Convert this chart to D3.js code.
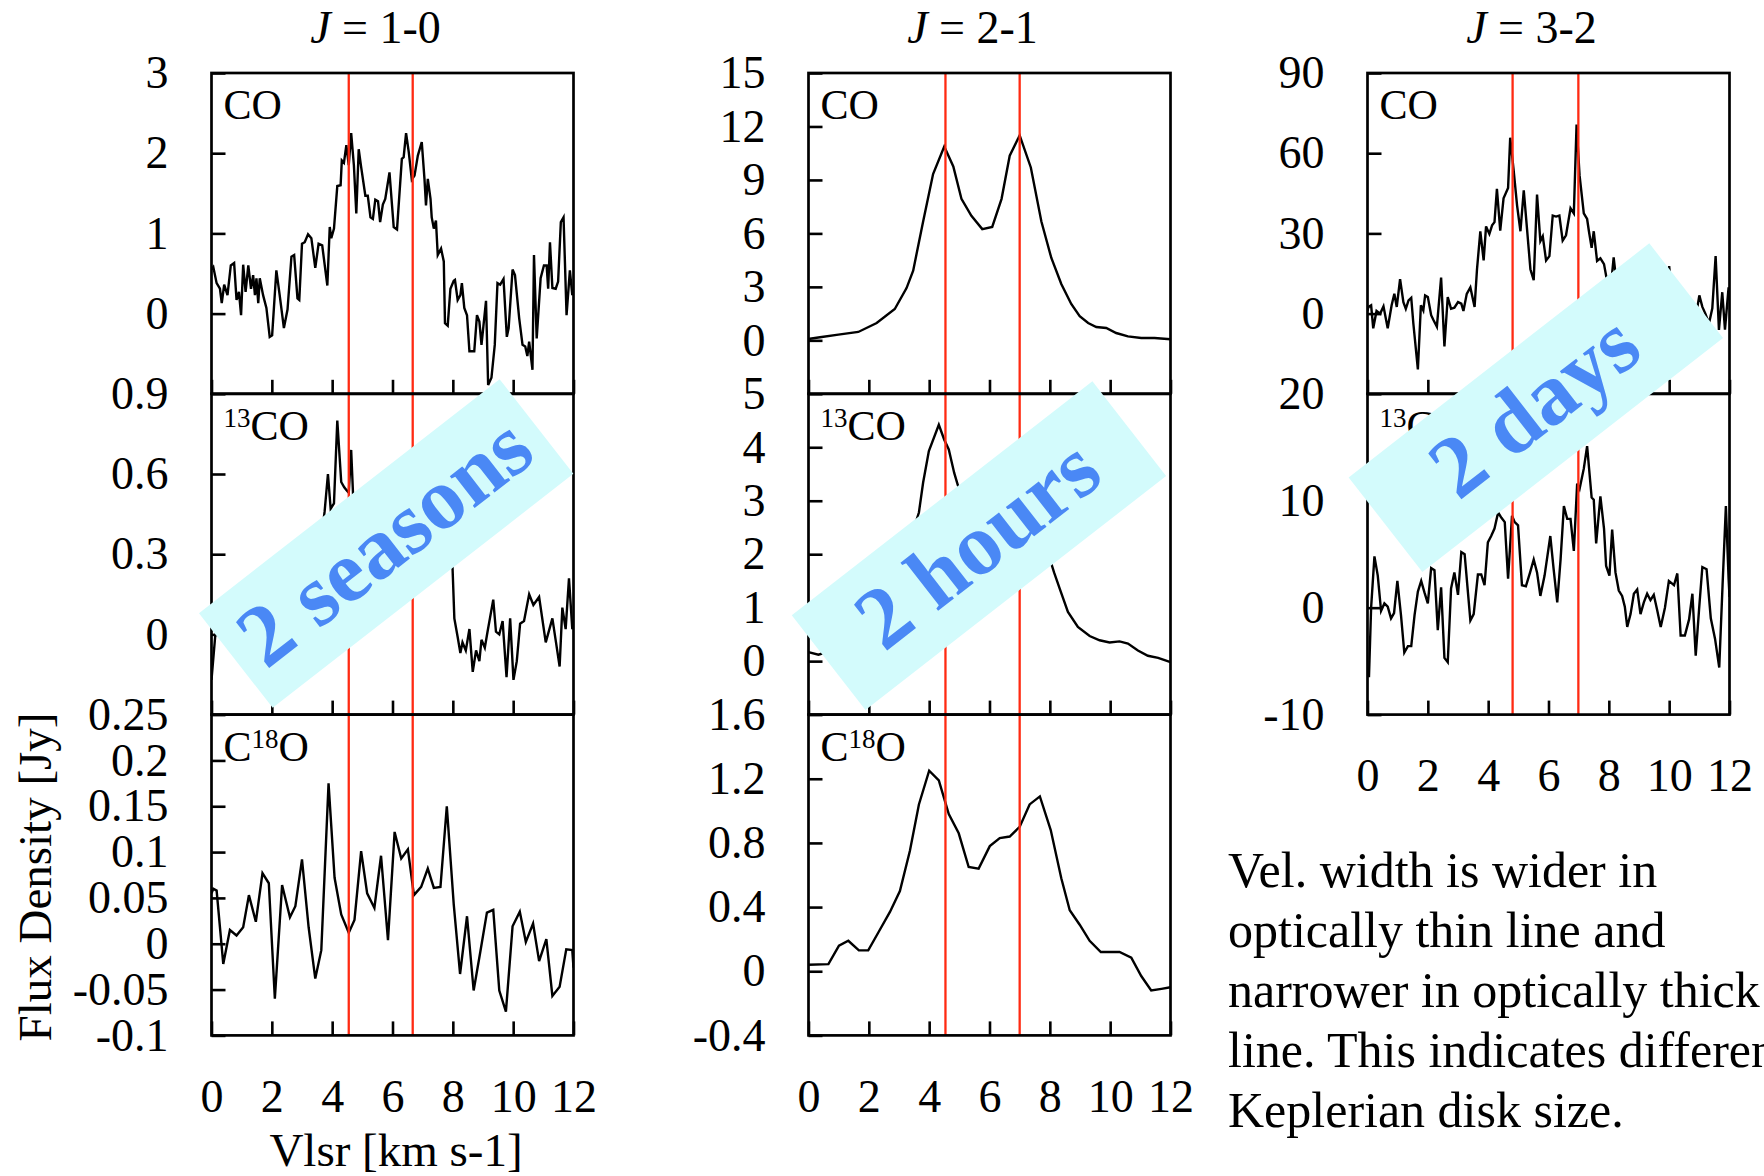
<!DOCTYPE html>
<html>
<head>
<meta charset="utf-8">
<script src="https://cdn.jsdelivr.net/npm/d3@7"></script>
<style>
  html, body { margin: 0; padding: 0; background: #fff; overflow: hidden; }
  svg { display: block; }
  text { font-family: "Liberation Serif", "Times New Roman", serif; fill: #000; }
</style>
</head>
<body>
<svg id="chart" width="1764" height="1176"></svg>
<script>
// ---------- data: spectra as [Vlsr (km/s), flux density (Jy)] ----------
const co10 = [[0.0,0.55],[0.06,0.58],[0.17,0.38],[0.28,0.31],[0.34,0.13],[0.42,0.36],[0.53,0.23],[0.64,0.60],[0.75,0.63],[0.83,0.17],[0.91,0.27],[0.98,-0.02],[1.05,0.61],[1.13,0.27],[1.22,0.60],[1.31,0.31],[1.38,0.48],[1.44,0.23],[1.49,0.44],[1.55,0.13],[1.60,0.44],[1.71,0.23],[1.82,0.07],[1.93,-0.29],[2.01,-0.27],[2.15,0.54],[2.26,0.23],[2.40,-0.18],[2.52,0.05],[2.65,0.71],[2.74,0.73],[2.85,0.19],[2.91,0.17],[3.00,0.87],[3.09,0.89],[3.20,0.99],[3.31,0.94],[3.44,0.57],[3.55,0.87],[3.67,0.85],[3.84,0.35],[3.92,1.08],[3.97,0.94],[4.06,1.06],[4.17,1.59],[4.28,1.60],[4.32,1.91],[4.39,1.88],[4.47,2.10],[4.55,1.85],[4.63,2.25],[4.72,1.85],[4.80,1.25],[4.88,2.05],[4.96,1.83],[5.10,1.47],[5.18,1.47],[5.27,1.20],[5.35,1.18],[5.43,1.42],[5.52,1.40],[5.59,1.14],[5.68,1.36],[5.76,1.43],[5.90,1.76],[6.04,1.08],[6.15,1.05],[6.31,1.93],[6.37,1.95],[6.45,2.25],[6.54,2.01],[6.64,1.67],[6.73,1.72],[6.84,1.97],[6.97,2.14],[7.06,1.68],[7.11,1.35],[7.17,1.68],[7.26,1.43],[7.30,1.20],[7.37,1.06],[7.44,1.16],[7.50,0.73],[7.61,0.81],[7.70,0.65],[7.74,-0.12],[7.83,-0.15],[7.92,0.31],[8.03,0.41],[8.07,0.42],[8.16,0.17],[8.25,0.23],[8.30,0.38],[8.38,0.07],[8.47,-0.02],[8.55,-0.47],[8.71,-0.47],[8.80,-0.02],[8.88,-0.10],[8.95,-0.39],[9.10,0.16],[9.17,-0.89],[9.28,-0.80],[9.39,-0.39],[9.48,0.38],[9.57,0.36],[9.68,0.43],[9.79,-0.29],[9.85,-0.18],[9.98,0.55],[10.06,0.48],[10.20,-0.06],[10.31,-0.39],[10.40,-0.41],[10.47,-0.53],[10.53,-0.35],[10.64,-0.70],[10.69,0.73],[10.78,-0.31],[10.91,0.44],[11.02,0.60],[11.11,0.60],[11.16,0.31],[11.22,0.89],[11.30,0.32],[11.41,0.31],[11.49,0.40],[11.58,1.14],[11.67,1.20],[11.77,-0.02],[11.88,0.54],[11.96,0.23],[12.0,0.30]];

const co13_10 = [[0.0,-0.17],[0.12,-0.01],[0.22,0.05],[0.33,0.08],[0.44,0.02],[0.55,0.10],[0.66,0.04],[0.77,0.12],[0.88,-0.02],[0.99,0.09],[1.10,0.03],[1.21,0.14],[1.32,-0.04],[1.43,0.08],[1.54,0.12],[1.65,0.0],[1.76,0.10],[1.87,-0.06],[1.98,0.07],[2.09,0.15],[2.20,0.02],[2.31,0.11],[2.42,-0.05],[2.53,0.09],[2.64,0.16],[2.75,0.04],[2.86,0.12],[2.97,0.0],[3.08,0.18],[3.19,0.08],[3.30,0.22],[3.41,0.12],[3.52,0.26],[3.63,0.35],[3.75,0.46],[3.86,0.60],[3.95,0.47],[4.06,0.49],[4.17,0.80],[4.30,0.57],[4.40,0.55],[4.47,0.54],[4.55,0.53],[4.63,0.69],[4.72,0.45],[4.83,0.30],[4.94,0.42],[5.05,0.36],[5.16,0.48],[5.27,0.33],[5.38,0.40],[5.49,0.29],[5.60,0.44],[5.71,0.36],[5.82,0.50],[5.93,0.38],[6.04,0.45],[6.15,0.55],[6.26,0.42],[6.37,0.58],[6.48,0.50],[6.59,0.62],[6.70,0.48],[6.81,0.60],[6.92,0.66],[7.03,0.52],[7.14,0.56],[7.25,0.44],[7.36,0.50],[7.47,0.38],[7.58,0.42],[7.69,0.33],[7.80,0.37],[7.91,0.30],[7.99,0.25],[8.05,0.06],[8.16,-0.01],[8.25,-0.07],[8.32,-0.03],[8.43,-0.06],[8.55,0.02],[8.66,-0.14],[8.77,-0.06],[8.88,-0.10],[8.95,-0.02],[9.06,-0.05],[9.15,0.01],[9.34,0.13],[9.43,0.01],[9.54,0.00],[9.65,0.05],[9.78,-0.16],[9.90,0.06],[10.01,-0.17],[10.12,-0.10],[10.23,0.04],[10.36,0.05],[10.53,0.15],[10.67,0.11],[10.86,0.14],[11.08,-0.03],[11.30,0.06],[11.42,-0.03],[11.54,-0.12],[11.63,0.10],[11.74,0.02],[11.85,0.21],[11.96,0.02],[12.0,0.03]];

const c18o10 = [[0.0,0.055],[0.06,0.060],[0.17,0.058],[0.39,-0.022],[0.61,0.015],[0.83,0.009],[1.05,0.018],[1.24,0.053],[1.47,0.024],[1.69,0.077],[1.90,0.066],[2.10,-0.060],[2.34,0.064],[2.60,0.029],[2.78,0.041],[3.00,0.092],[3.22,0.018],[3.44,-0.038],[3.64,-0.007],[3.88,0.175],[4.08,0.072],[4.30,0.032],[4.55,0.012],[4.74,0.026],[4.96,0.101],[5.16,0.055],[5.40,0.039],[5.62,0.096],[5.85,0.004],[6.07,0.122],[6.29,0.093],[6.51,0.103],[6.71,0.053],[6.95,0.062],[7.17,0.082],[7.37,0.061],[7.59,0.062],[7.80,0.150],[8.03,0.043],[8.24,-0.033],[8.47,0.030],[8.69,-0.051],[8.91,-0.009],[9.13,0.034],[9.34,0.037],[9.54,-0.051],[9.76,-0.074],[9.98,0.019],[10.22,0.035],[10.42,0.002],[10.66,0.022],[10.86,-0.019],[11.10,0.005],[11.30,-0.057],[11.54,-0.047],[11.76,-0.006],[11.96,-0.007],[12.0,-0.026]];

const co21 = [[0.0,0.05],[0.05,0.09],[0.38,0.17],[0.99,0.32],[1.65,0.47],[2.26,0.97],[2.86,1.76],[3.25,2.93],[3.47,3.91],[3.80,6.67],[4.13,9.33],[4.50,10.88],[4.80,9.76],[5.07,7.94],[5.40,6.99],[5.76,6.24],[6.09,6.36],[6.40,7.94],[6.67,10.36],[7.00,11.50],[7.37,9.70],[7.72,6.67],[8.05,4.62],[8.38,3.16],[8.71,2.04],[8.99,1.35],[9.27,0.97],[9.54,0.75],[9.87,0.69],[10.20,0.41],[10.59,0.22],[11.03,0.13],[11.47,0.13],[12.0,0.06]];

const co13_21 = [[0.0,0.17],[0.33,0.12],[0.66,0.18],[1.0,0.22],[1.33,0.26],[1.66,0.35],[2.0,0.48],[2.33,0.70],[2.66,1.05],[3.0,1.55],[3.33,2.20],[3.66,2.78],[3.80,3.34],[3.99,3.93],[4.32,4.42],[4.50,4.14],[4.65,3.96],[4.83,3.52],[4.94,3.31],[5.2,2.85],[5.5,2.50],[5.8,2.40],[6.1,2.50],[6.4,2.75],[6.7,2.95],[7.0,3.00],[7.3,2.80],[7.6,2.45],[7.8,2.20],[8.0,1.91],[8.14,1.66],[8.33,1.35],[8.60,0.92],[8.93,0.64],[9.32,0.47],[9.65,0.39],[9.98,0.35],[10.31,0.37],[10.59,0.33],[10.92,0.20],[11.25,0.10],[11.59,0.06],[12.0,-0.02]];

const c18o21 = [[0.0,0.04],[0.66,0.044],[1.01,0.16],[1.32,0.19],[1.67,0.13],[1.98,0.13],[2.31,0.24],[2.70,0.37],[3.03,0.50],[3.36,0.75],[3.66,1.04],[4.00,1.25],[4.32,1.19],[4.65,0.98],[4.98,0.86],[5.31,0.65],[5.64,0.64],[6.01,0.78],[6.34,0.83],[6.67,0.84],[7.00,0.90],[7.33,1.04],[7.67,1.09],[8.03,0.88],[8.38,0.58],[8.66,0.38],[8.99,0.29],[9.32,0.19],[9.69,0.12],[9.98,0.12],[10.31,0.12],[10.70,0.085],[11.03,-0.03],[11.36,-0.12],[11.70,-0.11],[12.0,-0.10]];

const co32 = [[0.0,1.0],[0.03,2.5],[0.12,3.1],[0.19,-5.5],[0.30,1.0],[0.42,0.0],[0.53,2.7],[0.67,-5.5],[0.80,3.1],[0.89,7.4],[0.97,2.5],[1.08,12.9],[1.19,4.3],[1.27,1.8],[1.36,4.9],[1.45,5.9],[1.52,-3.7],[1.67,-20.9],[1.77,3.1],[1.85,1.2],[1.91,6.8],[2.00,6.2],[2.11,-0.6],[2.19,-2.5],[2.30,-4.9],[2.44,13.5],[2.55,-12.3],[2.66,6.2],[2.77,1.8],[2.88,2.2],[3.00,4.3],[3.11,3.7],[3.18,1.0],[3.29,7.4],[3.41,9.8],[3.55,2.5],[3.63,16.6],[3.74,30.8],[3.85,19.9],[3.93,32.6],[4.04,29.8],[4.13,33.0],[4.21,34.2],[4.29,46.7],[4.40,31.0],[4.51,43.1],[4.66,47.0],[4.73,65.8],[4.84,54.1],[4.96,40.3],[5.07,30.8],[5.18,46.1],[5.29,31.4],[5.40,16.6],[5.51,12.5],[5.62,44.5],[5.73,27.1],[5.81,28.9],[5.92,19.9],[6.03,21.5],[6.14,36.7],[6.25,36.3],[6.36,36.7],[6.47,27.3],[6.58,29.3],[6.73,39.4],[6.84,37.5],[6.93,70.7],[7.03,51.7],[7.17,37.5],[7.28,35.4],[7.34,30.8],[7.43,24.6],[7.50,30.8],[7.61,19.7],[7.72,20.7],[7.84,18.5],[7.94,12.3],[8.05,8.0],[8.16,21.0],[8.27,10.0],[8.38,6.0],[8.49,12.0],[8.60,4.0],[8.72,9.0],[8.83,2.0],[8.94,7.0],[9.05,0.0],[9.16,5.0],[9.27,-3.0],[9.38,4.0],[9.49,1.0],[9.60,8.0],[9.72,-2.0],[9.83,6.0],[9.94,3.0],[10.0,17.8],[10.1,5.0],[10.2,-1.0],[10.3,4.0],[10.4,-6.0],[10.5,2.0],[10.6,-3.0],[10.7,3.0],[10.8,-5.0],[10.9,0.0],[11.0,6.8],[11.1,2.5],[11.2,0.0],[11.32,-3.7],[11.43,2.0],[11.54,21.5],[11.65,-6.1],[11.76,8.0],[11.85,-6.0],[11.97,9.8],[12.0,5.0]];

const co13_32 = [[0.0,-6.4],[0.05,-6.4],[0.12,0.0],[0.23,4.8],[0.34,3.0],[0.45,-0.3],[0.56,0.4],[0.67,0.1],[0.78,-1.0],[0.88,-0.5],[0.99,2.5],[1.11,-0.7],[1.22,-4.2],[1.34,-3.6],[1.45,-3.6],[1.56,-0.7],[1.67,1.5],[1.78,2.5],[1.89,1.4],[2.00,0.4],[2.11,3.7],[2.22,3.5],[2.33,-2.1],[2.44,1.9],[2.55,-4.7],[2.66,-5.1],[2.77,1.8],[2.88,3.3],[3.00,1.2],[3.11,5.2],[3.22,5.0],[3.41,-1.2],[3.52,-0.6],[3.66,3.1],[3.77,3.1],[3.88,2.1],[3.99,6.1],[4.10,6.7],[4.21,7.4],[4.33,8.9],[4.44,8.4],[4.55,8.0],[4.66,2.7],[4.79,8.6],[4.88,8.0],[4.99,7.7],[5.12,2.1],[5.25,2.0],[5.39,3.3],[5.51,4.5],[5.62,3.3],[5.73,1.1],[5.87,3.0],[6.06,6.7],[6.17,3.6],[6.29,0.5],[6.40,4.5],[6.51,9.5],[6.62,8.3],[6.73,8.3],[6.84,5.3],[6.95,11.6],[7.03,11.1],[7.17,13.0],[7.28,15.1],[7.43,10.3],[7.50,10.1],[7.58,6.0],[7.72,10.4],[7.84,7.4],[7.91,3.9],[8.02,3.0],[8.11,7.3],[8.22,3.3],[8.33,1.6],[8.44,1.1],[8.53,0.1],[8.61,-1.8],[8.72,-0.6],[8.83,1.3],[8.94,1.7],[9.05,-0.6],[9.16,0.5],[9.27,1.3],[9.38,0.7],[9.49,1.2],[9.60,-0.2],[9.72,-1.8],[9.86,0.0],[9.99,2.5],[10.16,2.1],[10.27,3.2],[10.38,-2.6],[10.52,-2.6],[10.66,-1.1],[10.77,1.3],[10.88,-4.5],[10.99,-0.2],[11.10,3.8],[11.24,3.6],[11.38,-1.0],[11.52,-2.9],[11.66,-5.6],[11.77,2.1],[11.88,9.5],[11.97,2.7],[12.0,1.0]];

// ---------- axes, reference velocities and labels ----------
const velTicks = [0, 2, 4, 6, 8, 10, 12];
const transitions = ["1-0", "2-1", "3-2"];
const yDomain10 = [[-1, 3], [-0.3, 0.9], [-0.1, 0.25]];
const yDomain21 = [[-3, 15], [-1, 5], [-0.4, 1.6]];
const yDomain32 = [[-30, 90], [-10, 20]];
const yTicks10 = [[0, 1, 2, 3], [0, 0.3, 0.6, 0.9], [-0.1, -0.05, 0, 0.05, 0.1, 0.15, 0.2, 0.25]];
const yTicks21 = [[0, 3, 6, 9, 12, 15], [0, 1, 2, 3, 4, 5], [-0.4, 0, 0.4, 0.8, 1.2, 1.6]];
const yTicks32 = [[0, 30, 60, 90], [-10, 0, 10, 20]];
const peakVel10 = [4.55, 6.67];
const peakVel21 = [4.54, 7.0];
const peakVel32 = [4.81, 6.99];
const notes = ["2 seasons", "2 hours", "2 days"];
const noteAt = [[5.79, 0.34], [5.65, 2.16], [5.58, 18.7]]; // [Vlsr, flux] in each column's 13CO panel
const summary = [
  "Vel. width is wider in",
  "optically thin line and",
  "narrower in optically thick",
  "line. This indicates different",
  "Keplerian disk size."
];

// molecule labels, split into normal and superscript runs
const molLabels = [
  [{ t: "CO" }],
  [{ t: "13", sup: true }, { t: "CO" }],
  [{ t: "C" }, { t: "18", sup: true }, { t: "O" }]
];

const columns = [
  { trans: transitions[0], spectra: [co10, co13_10, c18o10], domains: yDomain10, ticks: yTicks10, peaks: peakVel10 },
  { trans: transitions[1], spectra: [co21, co13_21, c18o21], domains: yDomain21, ticks: yTicks21, peaks: peakVel21 },
  { trans: transitions[2], spectra: [co32, co13_32], domains: yDomain32, ticks: yTicks32, peaks: peakVel32 }
];

// ---------- layout ----------
const colLeft = [211.5, 808.5, 1367.5];
const colWidth = 362;
const rowTop = 73;
const rowH = 320.8;
const tickLen = 14;
const tickFont = 46;

const svg = d3.select("#chart");
const defs = svg.append("defs");
const gData = svg.append("g");
const gRef = svg.append("g");
const gAxes = svg.append("g");
const gNotes = svg.append("g");

columns.forEach((col, ci) => {
  const x0 = colLeft[ci];
  const x = d3.scaleLinear().domain([0, 12]).range([x0, x0 + colWidth]);
  const nRows = col.spectra.length;
  const yScales = [];

  col.spectra.forEach((spec, ri) => {
    const top = rowTop + ri * rowH;
    const y = d3.scaleLinear().domain(col.domains[ri]).range([top + rowH, top]);
    yScales.push(y);

    const clipId = `clip-${ci}-${ri}`;
    defs.append("clipPath").attr("id", clipId)
      .append("rect").attr("x", x0).attr("y", top).attr("width", colWidth).attr("height", rowH);

    const line = d3.line().x(d => x(d[0])).y(d => y(d[1]));
    gData.append("path")
      .datum(spec)
      .attr("clip-path", `url(#${clipId})`)
      .attr("d", line)
      .attr("fill", "none")
      .attr("stroke", "#000")
      .attr("stroke-width", 2.4)
      .attr("stroke-linejoin", "miter");

    // y axis: inward ticks, labels on the left
    const yAxis = d3.axisLeft(y).tickValues(col.ticks[ri])
      .tickSizeInner(-tickLen).tickSizeOuter(0).tickPadding(43)
      .tickFormat(d => String(d));
    const ga = gAxes.append("g").attr("transform", `translate(${x0},0)`).call(yAxis);
    ga.select(".domain").remove();
    ga.selectAll("line").attr("stroke", "#000").attr("stroke-width", 2.6);
    ga.selectAll("text").attr("font-family", "Liberation Serif, serif").attr("font-size", tickFont).attr("fill", "#000");

    // x axis: inward ticks on each panel bottom, labels only under the last row
    const last = ri === nRows - 1;
    const xAxis = d3.axisBottom(x).tickValues(velTicks)
      .tickSizeInner(-tickLen).tickSizeOuter(0).tickPadding(44)
      .tickFormat(d => last ? String(d) : "");
    const gx = gAxes.append("g").attr("transform", `translate(0,${top + rowH})`).call(xAxis);
    gx.select(".domain").remove();
    gx.selectAll("line").attr("stroke", "#000").attr("stroke-width", 2.6);
    gx.selectAll("text").attr("font-family", "Liberation Serif, serif").attr("font-size", tickFont).attr("fill", "#000");

    // frame
    gAxes.append("rect")
      .attr("x", x0).attr("y", top).attr("width", colWidth).attr("height", rowH)
      .attr("fill", "none").attr("stroke", "#000").attr("stroke-width", 2.7);

    // molecule label
    const lab = gAxes.append("text")
      .attr("x", x0 + 12).attr("y", top + 46)
      .attr("font-size", 42);
    let raised = false;
    molLabels[ri].forEach(part => {
      const ts = lab.append("tspan").text(part.t);
      if (part.sup) {
        ts.attr("font-size", 27).attr("dy", -13);
        raised = true;
      } else {
        ts.attr("font-size", 42);
        if (raised) { ts.attr("dy", 13); raised = false; }
      }
    });
  });

  // reference velocities across the whole column
  const yTop = rowTop, yBot = rowTop + nRows * rowH;
  gRef.selectAll(null).data(col.peaks).enter().append("line")
    .attr("x1", d => x(d)).attr("x2", d => x(d))
    .attr("y1", yTop).attr("y2", yBot)
    .attr("stroke", "#ff2a12").attr("stroke-width", 2.3);

  // transition title
  const title = svg.append("text")
    .attr("x", x0 + colWidth / 2 - 17).attr("y", 43)
    .attr("text-anchor", "middle").attr("font-size", 46);
  title.append("tspan").attr("font-style", "italic").text("J");
  title.append("tspan").text(" = " + col.trans);

  // observing-time note on a tilted ribbon
  const [nv, nf] = noteAt[ci];
  const g = gNotes.append("g")
    .attr("transform", `translate(${x(nv)},${yScales[1](nf)}) rotate(-37.9)`);
  g.append("rect").attr("x", -190.5).attr("y", -60).attr("width", 381).attr("height", 120)
    .attr("fill", "#d3fbfc");
  g.append("text").attr("text-anchor", "middle").attr("dy", "0.3em")
    .attr("font-size", 88).attr("font-weight", "bold")
    .style("fill", "#4a88f5")
    .text(notes[ci]);
});

// axis titles
svg.append("text")
  .attr("transform", "translate(35,877) rotate(-90)")
  .attr("text-anchor", "middle").attr("dominant-baseline", "central")
  .attr("font-size", 47).text("Flux Density [Jy]");
svg.append("text")
  .attr("x", 396).attr("y", 1150)
  .attr("text-anchor", "middle").attr("dominant-baseline", "central")
  .attr("font-size", 47).text("Vlsr [km s-1]");

// summary text
svg.append("text").attr("font-size", 50)
  .selectAll("tspan").data(summary).enter().append("tspan")
  .attr("x", 1228).attr("y", (d, i) => 887 + i * 60)
  .text(d => d);
</script>
</body>
</html>
